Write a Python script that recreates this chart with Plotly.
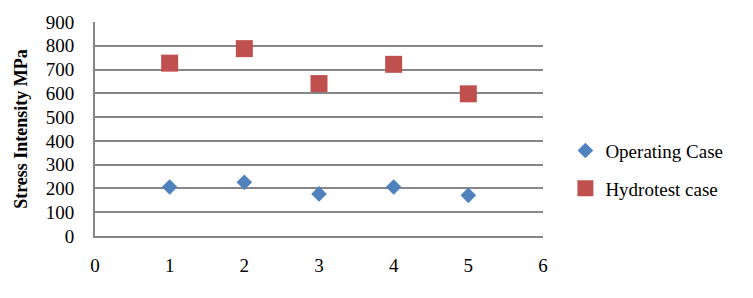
import plotly.graph_objects as go

x_vals = [1, 2, 3, 4, 5]
operating = [206, 226, 177, 206, 171]
hydrotest = [727, 788, 641, 722, 598]
y_ticks = [0, 100, 200, 300, 400, 500, 600, 700, 800, 900]
x_ticks = [0, 1, 2, 3, 4, 5, 6]

FONT = "Times New Roman"

fig = go.Figure()
fig.add_trace(go.Scatter(
    x=x_vals, y=operating, mode="markers", name="Operating Case",
    legendgroup="a",
    marker=dict(symbol="diamond", size=12, color="#4F81BD"),
))
fig.add_trace(go.Scatter(
    x=x_vals, y=hydrotest, mode="markers", name="Hydrotest case",
    legendgroup="b",
    marker=dict(symbol="square", size=17, color="#C0504D"),
))

fig.update_layout(
    width=753, height=298,
    margin=dict(l=95, r=210, t=16, b=62),
    paper_bgcolor="white", plot_bgcolor="white",
    font=dict(family=FONT, size=19, color="black"),
    showlegend=True,
    legend=dict(
        x=1.05, xanchor="left", xref="paper",
        y=0.31, yanchor="middle",
        font=dict(family=FONT, size=19, color="black"),
        tracegroupgap=10,
        bgcolor="rgba(0,0,0,0)",
    ),
    xaxis=dict(
        range=[0, 6], tickvals=x_ticks, ticktext=[str(v) for v in x_ticks],
        showgrid=False, zeroline=False, showline=True,
        linecolor="#868686", linewidth=2,
        ticks="", ticklabelstandoff=11,
        tickfont=dict(family=FONT, size=19, color="black"),
    ),
    yaxis=dict(
        range=[0, 900], tickvals=y_ticks, ticktext=[str(v) for v in y_ticks],
        showgrid=True, gridcolor="#868686", gridwidth=2,
        zeroline=False, showline=True, linecolor="#868686", linewidth=2,
        ticks="", ticklabelstandoff=15,
        tickfont=dict(family=FONT, size=19, color="black"),
        title=dict(text="<b>Stress Intensity MPa</b>", standoff=13,
                   font=dict(family=FONT, size=18, color="black")),
    ),
)

fig.write_html("out.html")
